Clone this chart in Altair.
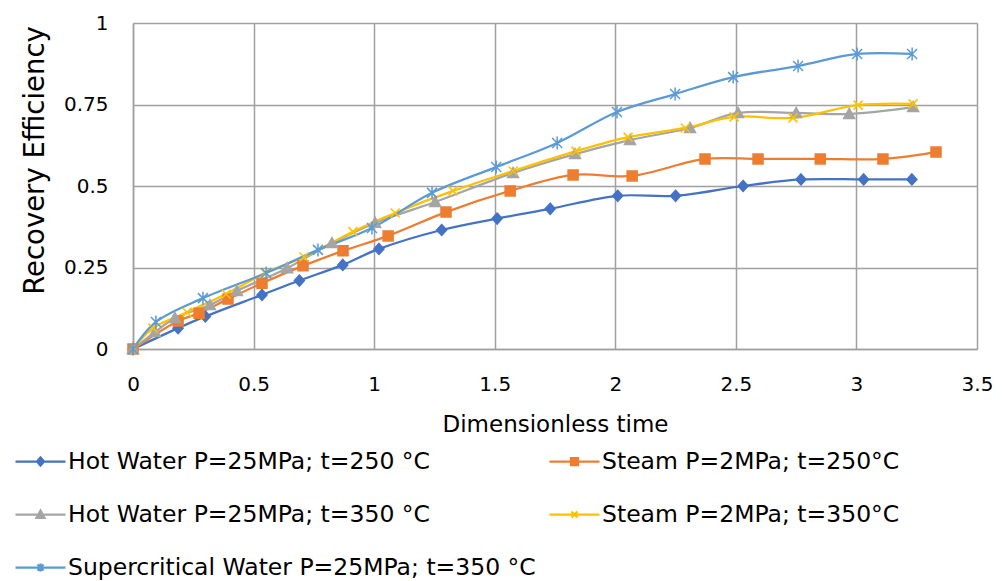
import altair as alt
import pandas as pd

series_names = [
    "Hot Water P=25MPa; t=250 °C",
    "Steam P=2MPa; t=250°C",
    "Hot Water P=25MPa; t=350 °C",
    "Steam P=2MPa; t=350°C",
    "Supercritical Water P=25MPa; t=350 °C",
]
series_colors = ["#4472C4", "#ED7D31", "#A5A5A5", "#FFC000", "#5B9BD5"]

hw250_x = [0, 0.187, 0.30, 0.535, 0.69, 0.87, 1.02, 1.28, 1.51, 1.73, 2.01, 2.25, 2.53, 2.77, 3.03, 3.23]
hw250_y = [0, 0.064, 0.10, 0.166, 0.21, 0.258, 0.307, 0.365, 0.40, 0.43, 0.47, 0.47, 0.50, 0.52, 0.52, 0.52]

st250_x = [0, 0.187, 0.274, 0.394, 0.535, 0.705, 0.871, 1.058, 1.298, 1.564, 1.825, 2.07, 2.372, 2.592, 2.85, 3.11, 3.33]
st250_y = [0, 0.086, 0.110, 0.153, 0.202, 0.255, 0.301, 0.347, 0.420, 0.485, 0.534, 0.531, 0.583, 0.583, 0.583, 0.583, 0.604]

hw350_x = [0, 0.091, 0.174, 0.319, 0.431, 0.639, 0.825, 1.004, 1.253, 1.576, 1.833, 2.061, 2.31, 2.509, 2.75, 2.97, 3.235]
hw350_y = [0, 0.052, 0.095, 0.135, 0.178, 0.248, 0.325, 0.387, 0.451, 0.54, 0.598, 0.641, 0.678, 0.724, 0.724, 0.721, 0.742]

st350_x = [0, 0.083, 0.224, 0.386, 0.548, 0.709, 0.912, 1.087, 1.327, 1.576, 1.837, 2.053, 2.29, 2.493, 2.737, 3.007, 3.235]
st350_y = [0, 0.064, 0.113, 0.169, 0.233, 0.282, 0.36, 0.417, 0.485, 0.546, 0.607, 0.650, 0.678, 0.712, 0.709, 0.748, 0.752]

scw_x = [0, 0.095, 0.29, 0.552, 0.767, 0.991, 1.24, 1.506, 1.759, 2.007, 2.248, 2.489, 2.758, 3.003, 3.231]
scw_y = [0, 0.083, 0.156, 0.233, 0.304, 0.371, 0.479, 0.558, 0.632, 0.727, 0.782, 0.834, 0.868, 0.905, 0.905]

x_ticks = [0, 0.5, 1, 1.5, 2, 2.5, 3, 3.5]
y_ticks = [0, 0.25, 0.5, 0.75, 1]

all_x = [hw250_x, st250_x, hw350_x, st350_x, scw_x]
all_y = [hw250_y, st250_y, hw350_y, st350_y, scw_y]

rows = []
for name, xs, ys in zip(series_names, all_x, all_y):
    for xv, yv in zip(xs, ys):
        rows.append({"series": name, "x": xv, "y": yv})
df = pd.DataFrame(rows)

# marker shapes (unit paths, scaled by size)
marker_paths = [
    "M0,-0.22L0.2,0L0,0.22L-0.2,0Z",
    "M-0.2,-0.2H0.2V0.2H-0.2Z",
    "M0,-0.22L0.22,0.18H-0.22Z",
    "M-0.18,-0.18L0.18,0.18M-0.18,0.18L0.18,-0.18",
    "M-0.2,-0.2L0.2,0.2M-0.2,0.2L0.2,-0.2M0,-0.26V0.26",
]
legend_markers = [
    "M0,-0.16L0.14,0L0,0.16L-0.14,0Z",
    "M-0.14,-0.14H0.14V0.14H-0.14Z",
    "M0,-0.16L0.16,0.13H-0.16Z",
    "M-0.12,-0.12L0.12,0.12M-0.12,0.12L0.12,-0.12",
    "M-0.12,-0.12L0.12,0.12M-0.12,0.12L0.12,-0.12M0,-0.16V0.16",
]
legend_paths = ["M-1,0H1" + p for p in legend_markers]

FONT = "DejaVu Sans"
GRID = "#a0a0a0"

x_enc = alt.X("x:Q", title="Dimensionless time",
              scale=alt.Scale(domain=[0, 3.5], nice=False),
              axis=alt.Axis(values=x_ticks, format=".2~f", labelFontSize=20,
                            labelPadding=35, labelFlush=False, labelBaseline="middle",
                            titleFontSize=23, titleFontWeight="normal",
                            titleY=75, titleBaseline="middle"))
y_enc = alt.Y("y:Q", title="Recovery Efficiency",
              scale=alt.Scale(domain=[0, 1], nice=False),
              axis=alt.Axis(values=y_ticks, format=".2~f", labelFontSize=20,
                            labelPadding=25, labelFlush=False, titleFontSize=27.5,
                            titleFontWeight="normal", titleX=-98, titleY=137,
                            titleBaseline="middle"))

color_scale = alt.Scale(domain=series_names, range=series_colors)

lines = alt.Chart(df).mark_line(interpolate="catmull-rom", strokeWidth=2.25).encode(
    x=x_enc, y=y_enc,
    color=alt.Color("series:N", scale=color_scale, legend=None),
)

points = alt.Chart(df).mark_point(filled=True, size=2500, strokeWidth=1.5, opacity=1).encode(
    x=x_enc, y=y_enc,
    fill=alt.Fill("series:N", scale=color_scale, legend=None),
    stroke=alt.Stroke("series:N", scale=color_scale, legend=None),
    shape=alt.Shape("series:N", scale=alt.Scale(domain=series_names, range=marker_paths), legend=None),
)

leg = alt.Legend(orient="none", legendX=-119, legendY=412, columns=2, columnPadding=9,
                 direction="horizontal",
                 rowPadding=15, symbolSize=2500, symbolStrokeWidth=2.25, labelFont=FONT,
                 labelFontSize=23.5, labelOffset=1, labelLimit=0, title=None, padding=0,
                 labelColor="#000000", symbolOpacity=1)

legend_layer = alt.Chart(df).transform_filter("false").mark_point(
    filled=True, size=2500, strokeWidth=2.25, opacity=1).encode(
    x=x_enc, y=y_enc,
    fill=alt.Fill("series:N", scale=color_scale, legend=leg),
    stroke=alt.Stroke("series:N", scale=color_scale, legend=leg),
    shape=alt.Shape("series:N", scale=alt.Scale(domain=series_names, range=legend_paths), legend=leg),
)

chart = alt.layer(lines, points, legend_layer).resolve_scale(
    color="independent", fill="independent", stroke="independent", shape="independent"
).properties(
    width=844, height=326,
    autosize=alt.AutoSizeParams(type="none"),
    padding={"left": 125, "top": 15, "right": 17, "bottom": 232},
).configure_view(stroke=None).configure_axis(
    grid=True, gridColor=GRID, gridWidth=1.5, domainColor=GRID, domainWidth=1.5,
    ticks=False, tickSize=0, labelFont=FONT, titleFont=FONT, labelColor="#000000",
    titleColor="#000000",
)

chart.save("out.html", embed_options={"renderer": "svg", "actions": False})
